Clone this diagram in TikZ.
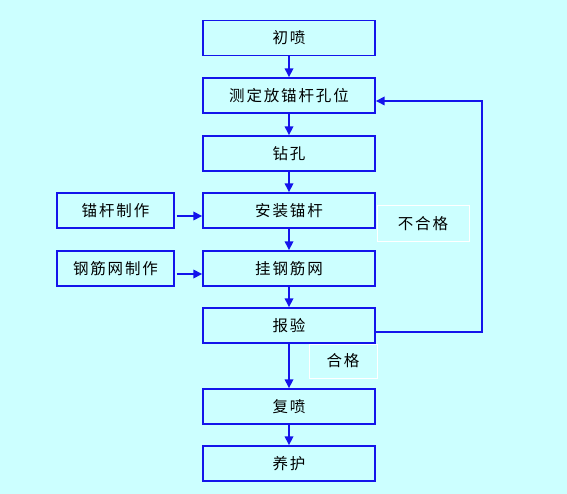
\documentclass[tikz,border=0pt]{standalone}
\usepackage{fontspec}
\newfontfamily\cjk[LetterSpace=12]{Noto Sans CJK SC}
\usetikzlibrary{arrows.meta}
\definecolor{bgc}{RGB}{204,255,255}
\definecolor{lineblue}{RGB}{20,20,235}
\begin{document}
\begin{tikzpicture}[x=1pt,y=-1pt,
  stepbox/.style={draw=lineblue,line width=1.4pt,fill=bgc,minimum width=172pt,minimum height=35pt,inner sep=0pt,font=\cjk\fontsize{15.5pt}{17pt}\selectfont,text=black},
  sidebox/.style={stepbox,minimum width=117pt},
  labelbox/.style={draw=white,line width=1pt,fill=bgc,inner sep=0pt,font=\cjk\fontsize{15.5pt}{17pt}\selectfont,text=black},
  arr/.style={draw=lineblue,line width=1.7pt,-{Triangle[length=9pt,width=8.5pt]}}]
\fill[bgc] (0,0) rectangle (567,494);
\useasboundingbox (0,0) rectangle (567,494);
\node[stepbox] (cp) at (289,38) {初喷};
\node[stepbox] (cd) at (289,95.5) {测定放锚杆孔位};
\node[stepbox] (zk) at (289,153.5) {钻孔};
\node[stepbox] (az) at (289,210.5) {安装锚杆};
\node[stepbox] (gw) at (289,268.5) {挂钢筋网};
\node[stepbox] (by) at (289,325.5) {报验};
\node[stepbox] (fp) at (289,406.5) {复喷};
\node[stepbox] (yh) at (289,463.5) {养护};
\node[sidebox] (mz) at (115.5,210.5) {锚杆制作};
\node[sidebox] (gz) at (115.5,268.5) {钢筋网制作};
\node[labelbox,minimum width=92pt,minimum height=36pt] (bhg) at (423,224) {不合格};
\node[labelbox,minimum width=68pt,minimum height=34pt] (hg) at (343,361) {合格};
\coordinate (fb) at (482,101);
\draw[arr] (cp) -- (cd);
\draw[arr] (cd) -- (zk);
\draw[arr] (zk) -- (az);
\draw[arr] (az) -- (gw);
\draw[arr] (gw) -- (by);
\draw[arr] (by) -- (fp);
\draw[arr] (fp) -- (yh);
\draw[arr] ([shift={(2,5.5)}]mz.east) coordinate (s1) -- (s1 -| az.west);
\draw[arr] ([shift={(2,5.5)}]gz.east) coordinate (s2) -- (s2 -| gw.west);
\draw[arr] ([shift={(0,6.5)}]by.east) -| (fb) -- (fb -| cd.east);
\end{tikzpicture}
\end{document}
